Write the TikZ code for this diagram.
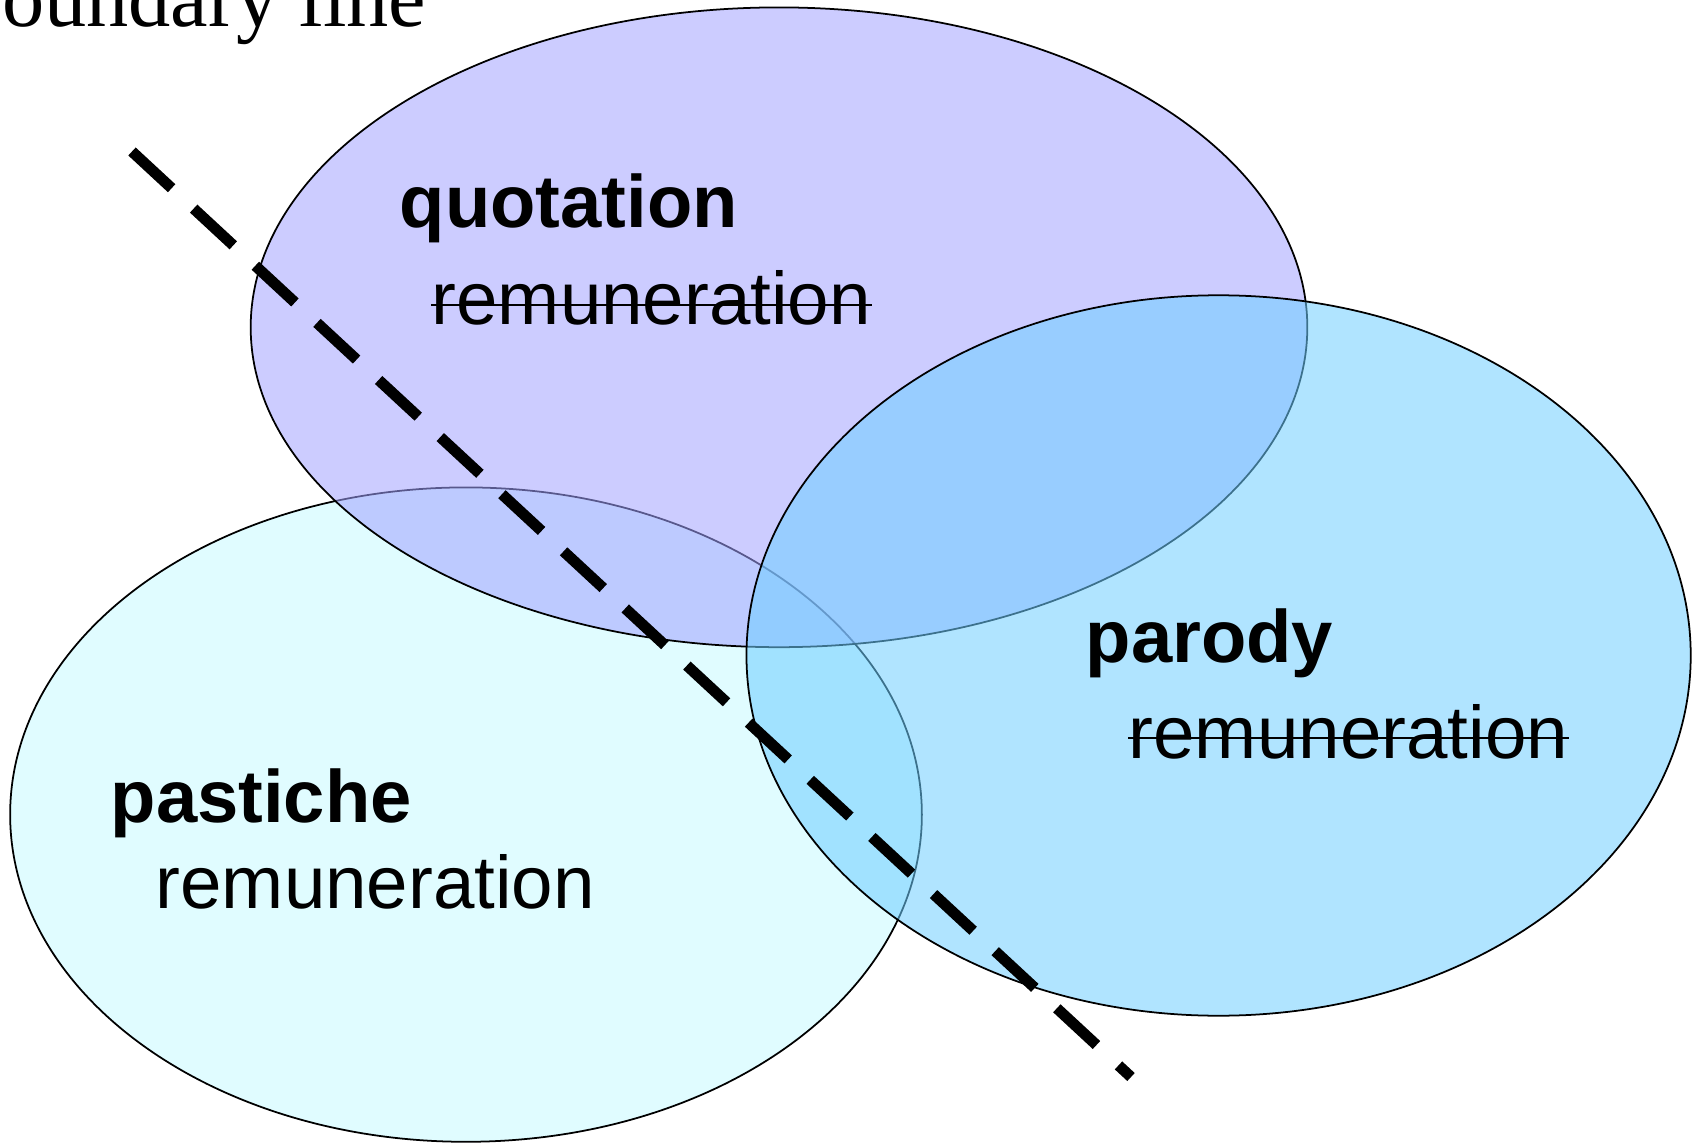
\documentclass[tikz,border=0pt]{standalone}
\usepackage{fontspec}
\setmainfont{Liberation Serif}
\setsansfont{Liberation Sans}
\usepackage{xcolor}
\usetikzlibrary{shapes.geometric, positioning}

\definecolor{pastichefill}{RGB}{224,252,255}
\definecolor{quotationfill}{RGB}{162,162,255}
\definecolor{parodyfill}{RGB}{111,206,255}

\begin{document}
\begin{tikzpicture}[
    x=0.01cm, y=-0.01cm,
    venn/.style={ellipse, draw=black, line width=0.5pt, inner sep=0pt},
    heading/.style={anchor=base west, inner sep=0pt, font=\sffamily\bfseries\fontsize{21.1}{25}\selectfont},
    pay/.style={anchor=base west, inner sep=0pt, font=\sffamily\fontsize{21.2}{25}\selectfont},
    strike/.style={line width=0.8pt},
    boundary/.style={line width=3.1pt, dash pattern=on 0.54cm off 0.30cm}
]
\useasboundingbox (0,0) rectangle (1697,1143);

% Sets
\node (pastiche) [venn, fill=pastichefill, minimum width=9.112cm, minimum height=6.54cm] at (466,814.6) {};
\node (quotation) [venn, fill=quotationfill, fill opacity=0.55, minimum width=10.56cm, minimum height=6.394cm] at (779,327.3) {};
\node (parody) [venn, fill=parodyfill, fill opacity=0.55, minimum width=9.437cm, minimum height=7.2cm] at (1218.6,655.5) {};

% Labels
\node (quotationname) [heading] at (399,228) {quotation};
\node (quotationpay) [pay] at (431,325) {remuneration};
\node (parodyname) [heading] at (1085,662) {parody};
\node (parodypay) [pay] at (1128,758) {remuneration};
\node (pastichename) [heading] at (110,822) {pastiche};
\node (pastichepay) [pay] at (155,908) {remuneration};

% Struck out
\draw [strike] ([yshift=0.2cm]quotationpay.base west) -- ([yshift=0.2cm]quotationpay.base east);
\draw [strike] ([yshift=0.2cm]parodypay.base west) -- ([yshift=0.2cm]parodypay.base east);

% Boundary line
\node (boundarytext) [anchor=base east, inner sep=0pt, font=\fontsize{24}{28}\selectfont] at (427,27) {boundary line};
\coordinate (linestart) at (132,151.5);
\coordinate (lineend) at (1131,1077);
\draw [boundary] (linestart) -- (lineend);

\end{tikzpicture}
\end{document}
